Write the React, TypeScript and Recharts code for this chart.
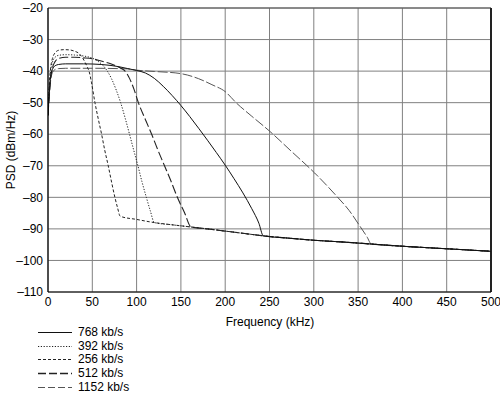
import React from 'react';
import { LineChart, Line, XAxis, YAxis, CartesianGrid, ReferenceLine } from 'recharts';

const xTicks = [0, 50, 100, 150, 200, 250, 300, 350, 400, 450, 500];
const yTicks = [-20, -30, -40, -50, -60, -70, -80, -90, -100, -110];

// noise floor shared by all rates after their knee
const floorFreq = [81.5, 100, 120, 140, 161.5, 180, 200, 220, 243, 270, 300, 335, 365, 400, 450, 500];
const floorPsd = [-86, -87, -88, -88.7, -89.4, -90, -90.7, -91.4, -92.2, -92.9, -93.6, -94.2, -94.8, -95.5, -96.3, -97.1];

const r768Freq = [0, 1, 2, 3, 5, 8, 12, 20, 40, 60, 80, 90, 100, 110, 120, 130, 140, 150, 160, 170, 180, 190, 200, 210, 220, 230, 238, 243];
const r768Psd = [-54, -49, -45, -42, -39.5, -38.3, -37.9, -37.7, -37.7, -37.9, -38.6, -39.2, -39.8, -40.6, -42.3, -44.8, -47.7, -50.9, -54.4, -58.1, -61.9, -65.8, -69.8, -74.1, -78.6, -83.6, -88.2, -92.2];

const r392Freq = [0, 1, 2, 3, 5, 8, 12, 20, 30, 40, 50, 56, 62, 67, 72, 77, 82, 87, 92, 96.5, 101.5, 106, 111, 115.5, 120];
const r392Psd = [-54, -48, -43, -40, -37.2, -35.6, -35, -34.8, -34.9, -35.2, -35.9, -36.8, -38.2, -40, -42.6, -46, -50, -54.8, -60, -64.8, -70, -75, -80, -84.3, -88];

const r256Freq = [0, 1, 2, 3, 5, 8, 12, 18, 25, 30, 35, 39, 42, 44.5, 46.5, 49, 53, 57, 60.5, 64, 68, 72, 75.5, 78.5, 81.5];
const r256Psd = [-54, -47, -42, -39, -36, -34.2, -33.4, -33.2, -33.3, -33.7, -34.4, -35.8, -37.3, -38.8, -40.2, -43.5, -50, -55.5, -60, -65, -70, -75.5, -80, -83.3, -86];

const r512Freq = [0, 1, 2, 3, 5, 8, 12, 20, 30, 40, 50, 60, 70, 78, 83, 87, 92, 97, 102, 110, 117, 124, 131.5, 139, 146, 154, 161.5];
const r512Psd = [-54, -49, -45, -42, -39, -37, -36, -35.6, -35.6, -35.8, -36.1, -36.8, -37.6, -38.5, -39.2, -40, -42.3, -45.7, -50, -55.4, -60, -65, -70, -75, -80, -84.8, -89.4];

const r1152Freq = [0, 1, 2, 3, 5, 8, 12, 20, 50, 90, 100, 120, 150, 170, 185, 200, 213, 230, 250, 275, 301, 326, 340, 351, 360, 365];
const r1152Psd = [-54, -50, -46, -43, -40.5, -39.5, -39.2, -39.1, -39.1, -39.3, -39.7, -40.1, -40.8, -42.4, -44.3, -46.5, -50.2, -54.3, -59, -65.5, -72.3, -79.7, -84.2, -88.7, -92.5, -94.8];

const seriesNames = ['768 kb/s', '392 kb/s', '256 kb/s', '512 kb/s', '1152 kb/s'];

function build(freq: number[], psd: number[]) {
  const pts = freq.map((f, i) => ({ f, psd: psd[i] }));
  const last = freq[freq.length - 1];
  floorFreq.forEach((f, i) => {
    if (f > last) pts.push({ f, psd: floorPsd[i] });
  });
  return pts;
}

const d768 = build(r768Freq, r768Psd);
const d392 = build(r392Freq, r392Psd);
const d256 = build(r256Freq, r256Psd);
const d512 = build(r512Freq, r512Psd);
const d1152 = build(r1152Freq, r1152Psd);

const styles = [
  { stroke: '#111', dash: undefined as string | undefined, width: 1 },
  { stroke: '#222', dash: '1.2 1.6', width: 1 },
  { stroke: '#222', dash: '3 2', width: 1 },
  { stroke: '#222', dash: '9 3', width: 1.1 },
  { stroke: '#555', dash: '10 2.5', width: 1 },
];

const fmt = (v: number) => String(v).replace('-', '\u2013');
const FONT = '"Liberation Sans", Arial, Helvetica, sans-serif';

export default function App() {
  return (
    <div style={{ position: 'absolute', left: 0, top: 0, width: 500, height: 394, background: '#fff', fontFamily: FONT }}>
      <LineChart width={500} height={394} margin={{ top: 8, right: 9, left: 0, bottom: 72 }}>
        <CartesianGrid stroke="#808080" strokeWidth={1} />
        <XAxis
          dataKey="f"
          type="number"
          domain={[0, 500]}
          ticks={xTicks}
          allowDataOverflow
          height={30}
          tickSize={0}
          tickMargin={5}
          tickLine={false}
          axisLine={{ stroke: '#000', strokeWidth: 1.2 }}
          tick={{ fill: '#000', fontSize: 12, fontFamily: FONT }}
        />
        <YAxis
          type="number"
          domain={[-110, -20]}
          ticks={yTicks}
          allowDataOverflow
          width={48}
          tickSize={0}
          tickMargin={5}
          tickLine={false}
          tickFormatter={fmt}
          axisLine={{ stroke: '#000', strokeWidth: 1.2 }}
          tick={{ fill: '#000', fontSize: 12, fontFamily: FONT }}
        />
        <ReferenceLine y={-20} stroke="#555" strokeWidth={1.2} />
        <ReferenceLine x={500} stroke="#222" strokeWidth={2} />
        <Line data={d1152} dataKey="psd" type="monotone" stroke={styles[4].stroke} strokeDasharray={styles[4].dash} strokeWidth={styles[4].width} dot={false} isAnimationActive={false} />
        <Line data={d512} dataKey="psd" type="monotone" stroke={styles[3].stroke} strokeDasharray={styles[3].dash} strokeWidth={styles[3].width} dot={false} isAnimationActive={false} />
        <Line data={d256} dataKey="psd" type="monotone" stroke={styles[2].stroke} strokeDasharray={styles[2].dash} strokeWidth={styles[2].width} dot={false} isAnimationActive={false} />
        <Line data={d392} dataKey="psd" type="monotone" stroke={styles[1].stroke} strokeDasharray={styles[1].dash} strokeWidth={styles[1].width} dot={false} isAnimationActive={false} />
        <Line data={d768} dataKey="psd" type="monotone" stroke={styles[0].stroke} strokeDasharray={styles[0].dash} strokeWidth={styles[0].width} dot={false} isAnimationActive={false} />
        <text x={270} y={322} textAnchor="middle" dominantBaseline="central" fontSize={12} fontFamily={FONT} fill="#000">Frequency (kHz)</text>
        <text x={11} y={150} textAnchor="middle" dominantBaseline="central" fontSize={12} fontFamily={FONT} fill="#000" transform="rotate(-90 11 150)">PSD (dBm/Hz)</text>
      </LineChart>
      <div style={{ position: 'absolute', left: 0, top: 325 }}>
        {seriesNames.map((name, i) => (
          <div key={name} style={{ position: 'absolute', left: 0, top: i * 13.7, height: 14, width: 200 }}>
            <svg width={74} height={14} style={{ position: 'absolute', left: 0, top: 0 }}>
              <line x1={38} x2={72} y1={7.5} y2={7.5} stroke={styles[i].stroke} strokeDasharray={i === 4 ? '7 3' : i === 3 ? '8 3' : styles[i].dash} strokeWidth={i === 3 ? 1.6 : 1} />
            </svg>
            <span style={{ position: 'absolute', left: 78, top: 0, fontSize: 12, lineHeight: '14px', color: '#000', fontFamily: FONT, whiteSpace: 'nowrap' }}>{name}</span>
          </div>
        ))}
      </div>
    </div>
  );
}
